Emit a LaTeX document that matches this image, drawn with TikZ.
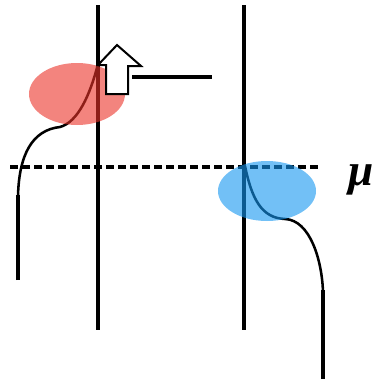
\documentclass[tikz,border=0pt]{standalone}
\usepackage{fontspec}
\newfontfamily\mufont{Liberation Serif}
\usepackage{tikz}
\usetikzlibrary{positioning,calc}
\definecolor{dosred}{RGB}{235,50,40}
\definecolor{dosblue}{RGB}{20,150,240}

\begin{document}
\begin{tikzpicture}[x=0.75pt, y=-0.75pt,
axis/.style={line width=3pt, draw=black},
fermi/.style={line width=1.9pt, draw=black},
tail/.style={line width=3pt, draw=black},
level/.style={line width=3pt, draw=black, dash pattern=on 6pt off 3pt},
blob/.style={opacity=0.6},
uparrow/.style={draw=black, fill=white, line width=1.5pt, line join=miter}
]
\useasboundingbox (0,0) rectangle (378,379);

% two sites
\draw[axis] (98,5) -- (98,330);
\draw[axis] (244,5) -- (244,330);

% chemical potential
\draw[level] (10,167) -- (318,167);
\node[anchor=base, inner sep=0pt, font=\mufont\bfseries\itshape\fontsize{34}{34}\selectfont] (mu) at (361,185) {μ};

% left curve
\draw[tail] (18,280) -- (18,195);
\draw[fermi] (18,196) .. controls (19,155) and (32,130) .. (60,127)
  .. controls (78,122) and (90,95) .. (98,64);

% right curve
\draw[fermi] (245,166) .. controls (252,200) and (262,218) .. (285,219)
  .. controls (310,220) and (322,260) .. (323,292);
\draw[tail] (323,290) -- (323,379);

% occupied regions
\fill[dosred, blob] (77,94) ellipse (48 and 31);
\fill[dosblue, blob] (267,191) ellipse (49 and 30);

% shift arrow
\draw[uparrow] (106,94) -- (106,65) -- (98,65) -- (117,45) -- (141,66)
  -- (128,66) -- (128,94) -- cycle;
\draw[axis] (132,77) -- (212,77);

\end{tikzpicture}
\end{document}
